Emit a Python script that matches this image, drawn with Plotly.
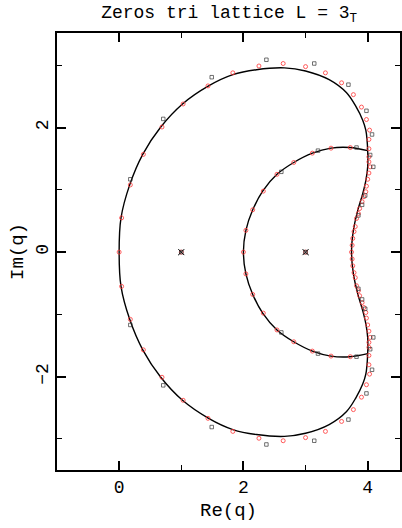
import plotly.graph_objects as go

# limiting curve, upper half (lower half is the mirror image)
outer_x = [0.0, 0.03, 0.17, 0.38, 0.67, 1.02, 1.44, 1.83, 2.21, 2.66, 3.0, 3.38, 3.66, 3.81, 3.92, 3.97, 3.99, 4.0]
outer_y = [0.0, 0.55, 1.08, 1.57, 2.01, 2.38, 2.67, 2.85, 2.93, 2.96, 2.91, 2.77, 2.56, 2.34, 2.12, 1.96, 1.8, 1.63]
inner_x = [2.0, 2.04, 2.15, 2.31, 2.54, 2.81, 3.11, 3.41, 3.71, 4.0]
inner_y = [0.0, 0.35, 0.68, 0.98, 1.25, 1.44, 1.59, 1.67, 1.68, 1.63]
right_x = [3.74, 3.77, 3.84, 3.92, 3.97, 4.0, 4.0]
right_y = [0.0, 0.35, 0.67, 0.94, 1.15, 1.37, 1.63]

# zeros of the larger strip (red circles), upper half
red_x = [0.04, 0.18, 0.39, 0.69, 1.03, 1.43, 1.83, 2.25, 2.64, 3.0, 3.32, 3.58, 3.77, 3.9, 3.98, 4.03, 4.02, 4.02,
         4.02, 4.02, 4.04, 4.02, 4.0, 3.98, 3.97, 3.94, 3.91, 3.87, 3.85, 3.82, 3.8, 3.78, 3.76, 3.75,
         2.04, 2.15, 2.32, 2.54, 2.81, 3.11, 3.41, 3.72]
red_y = [0.55, 1.08, 1.57, 2.01, 2.38, 2.67, 2.88, 2.99, 3.03, 2.98, 2.88, 2.72, 2.53, 2.33, 2.13, 1.96, 1.81, 1.66,
         1.53, 1.45, 1.37, 1.27, 1.17, 1.06, 0.97, 0.89, 0.81, 0.7, 0.62, 0.54, 0.41, 0.33, 0.22, 0.11,
         0.35, 0.68, 0.98, 1.25, 1.44, 1.59, 1.67, 1.68]
red_real = [0.0, 1.0, 2.0, 3.0, 3.74]

# zeros of the smaller strip (black squares), upper half
blk_x = [0.18, 0.71, 1.49, 2.37, 3.14, 3.69, 3.98, 4.07, 4.04, 4.09, 3.96, 3.91, 3.85, 3.82, 3.2, 2.61]
blk_y = [1.17, 2.14, 2.81, 3.09, 3.03, 2.69, 2.27, 1.89, 1.56, 1.37, 0.91, 0.76, 0.59, 1.68, 1.63, 1.29]
blk_real = [1.0, 3.0]

cross_x = [1.0, 3.0]


def mirror(xs, ys):
    # complex-conjugate closure: lower half then upper half
    return list(reversed(xs)) + xs[1:], [-v for v in reversed(ys)] + ys[1:]


fig = go.Figure()

for xs, ys in [(outer_x, outer_y), (inner_x, inner_y), (right_x, right_y)]:
    cx, cy = mirror(xs, ys)
    fig.add_trace(go.Scatter(x=cx, y=cy, mode='lines', line=dict(color='black', width=1.4, shape='spline', smoothing=1.0),
                             hoverinfo='skip'))

fig.add_trace(go.Scatter(x=red_x + red_x + red_real, y=red_y + [-v for v in red_y] + [0] * len(red_real),
                         mode='markers',
                         marker=dict(symbol='circle-open', size=4, color='#ff3535', line=dict(width=0.8))))
fig.add_trace(go.Scatter(x=blk_x + blk_x + blk_real, y=blk_y + [-v for v in blk_y] + [0] * len(blk_real),
                         mode='markers',
                         marker=dict(symbol='square-open', size=3.5, color='#333333', line=dict(width=0.7))))
fig.add_trace(go.Scatter(x=cross_x, y=[0, 0], mode='markers',
                         marker=dict(symbol='x-thin-open', size=6, color='black', line=dict(width=1))))

font_txt = 'Liberation Mono'
axis_style = dict(showgrid=False, zeroline=False, showline=True, linecolor='black', linewidth=1.5, mirror='ticks',
                  ticks='inside', ticklen=9, tickwidth=1.5, tickcolor='black', dtick=2, automargin=False,
                  minor=dict(dtick=1, ticks='inside', ticklen=5, tickwidth=1.2, tickcolor='black'),
                  tickfont=dict(family=font_txt, size=18, color='black'))

fig.update_xaxes(range=[-1, 4.52], tick0=0,
                 title=dict(text='Re(q)', font=dict(family=font_txt, size=19, color='black'), standoff=5),
                 **axis_style)
fig.update_yaxes(range=[-3.5, 3.52], tick0=0, tickangle=-90,
                 title=dict(text='Im(q)', font=dict(family=font_txt, size=19, color='black'), standoff=4),
                 **axis_style)

fig.update_layout(
    width=402, height=528,
    margin=dict(l=57, r=2, t=33, b=58),
    plot_bgcolor='white', paper_bgcolor='white',
    showlegend=False,
    title=dict(text='Zeros tri lattice L = 3<sub>T</sub>', x=0.57, xanchor='center', y=0.99, yanchor='top',
               font=dict(family=font_txt, size=18, color='black')),
)

# drop the page's default body margin so the figure sits at the window corner
fig.write_html("out.html", config={'displayModeBar': False},
               post_script="document.body.style.margin='0';")
